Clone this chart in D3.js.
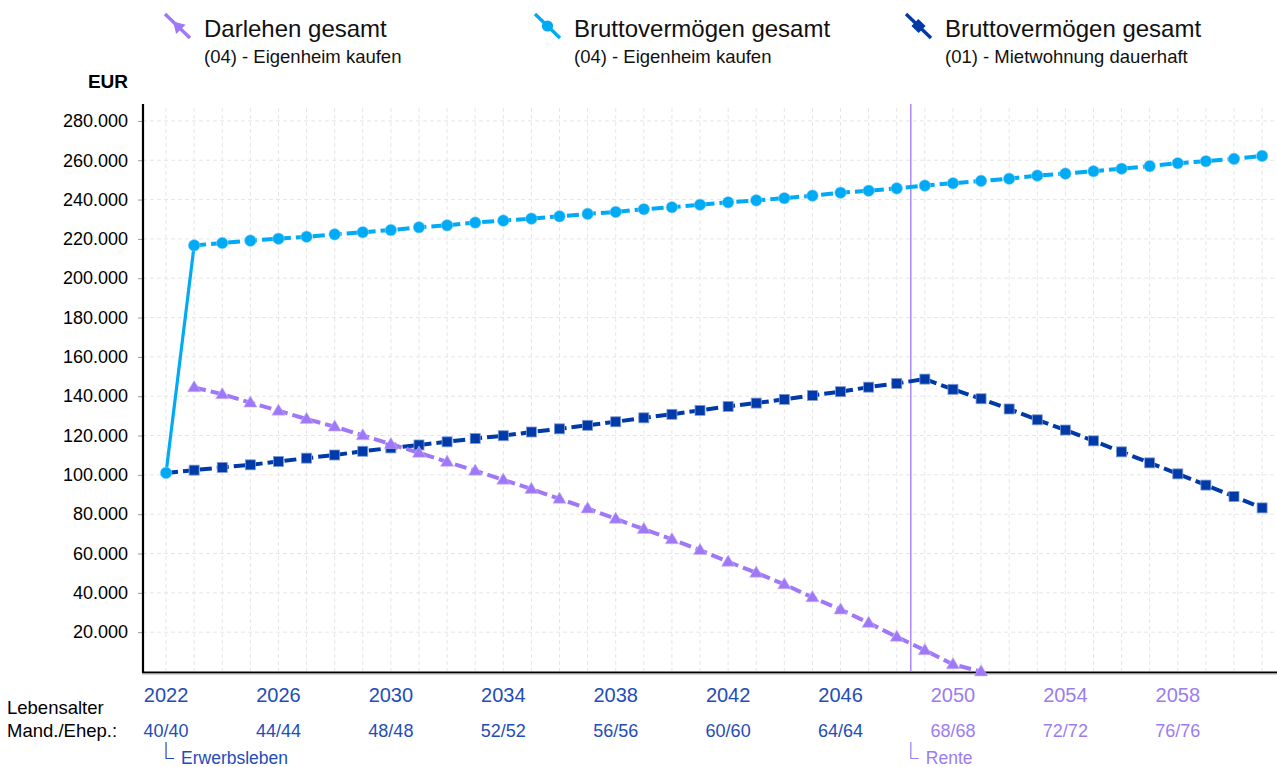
<!DOCTYPE html>
<html><head><meta charset="utf-8">
<script src="https://cdn.jsdelivr.net/npm/d3@7"></script>
<style>
html,body{margin:0;padding:0;background:#fff;}
svg{display:block;font-family:"Liberation Sans",Arial,sans-serif;}
</style></head>
<body>
<svg id="chart" width="1277" height="767"></svg>
<script>
// ---- data ----
const years = [2022,2023,2024,2025,2026,2027,2028,2029,2030,2031,2032,2033,2034,2035,2036,2037,2038,2039,2040,2041,
               2042,2043,2044,2045,2046,2047,2048,2049,2050,2051,2052,2053,2054,2055,2056,2057,2058,2059,2060,2061];
const bruttoEigenheim = [101000,216700,217900,219100,220100,221100,222300,223400,224500,225900,226900,228300,229300,230300,231500,232700,233700,235100,236100,237400,
                         238600,239600,240700,242000,243500,244500,245700,247100,248300,249500,250600,252200,253200,254400,255700,257000,258500,259500,260700,262200];
const darlehenEigenheim = [null,144500,141000,136700,132600,128400,124500,120100,115600,111200,106600,102100,97500,92800,87800,82900,77600,72400,67200,61700,
                           55800,50200,44300,37700,31500,24700,17600,10800,3600,0,null,null,null,null,null,null,null,null,null,null];
const bruttoMiete = [101000,102400,103800,105100,106800,108500,110100,112000,113700,115200,116800,118500,119900,121800,123400,125200,127000,129000,130800,132800,
                     134800,136500,138400,140400,142300,144600,146500,148700,143500,138700,133500,128000,122800,117300,111700,106100,100500,94800,89000,83200];
const yTicks = [20000,40000,60000,80000,100000,120000,140000,160000,180000,200000,220000,240000,260000,280000];
const xLabelYears = [2022,2026,2030,2034,2038,2042,2046,2050,2054,2058];
const ageLabels = ["40/40","44/44","48/48","52/52","56/56","60/60","64/64","68/68","72/72","76/76"];
const retirementYear = 2048.5;
const legendTitles = ["Darlehen gesamt","Bruttovermögen gesamt","Bruttovermögen gesamt"];
const legendSubs = ["(04) - Eigenheim kaufen","(04) - Eigenheim kaufen","(01) - Mietwohnung dauerhaft"];

// ---- styles ----
const cLight = "#00aaf5", cDark = "#0039a8", cPurple = "#9f78f7";
const cTextBlue = "#1f4db9", cTextPurple = "#9c7cf2";
const font = '"Liberation Sans",Arial,sans-serif';

const svg = d3.select("#chart");
const x = d3.scaleLinear().domain([2021.18, 2061.53]).range([143, 1277]);
const y = d3.scaleLinear().domain([0, 288600]).range([671.5, 104]);
const yTop = y(288600), yBot = y(0);

// grid
const grid = svg.append("g");
grid.selectAll("line.h").data(yTicks).join("line")
  .attr("x1", 143).attr("x2", 1277).attr("y1", d => y(d)).attr("y2", d => y(d))
  .attr("stroke", "#e6e6e6").attr("stroke-width", 1).attr("stroke-dasharray", "4,3");
grid.selectAll("line.v").data(years).join("line")
  .attr("x1", d => x(d)).attr("x2", d => x(d)).attr("y1", yTop + 4).attr("y2", yBot)
  .attr("stroke", "#e6e6e6").attr("stroke-width", 1).attr("stroke-dasharray", "4,3");

// y axis
const yAxis = d3.axisLeft(y).tickValues(yTicks).tickSize(5).tickPadding(10)
  .tickFormat(d => d3.format(",")(d).replace(/,/g, "."));
const gy = svg.append("g").attr("transform", "translate(143,0)").call(yAxis);
gy.select(".domain").remove();
gy.selectAll(".tick line").attr("stroke", "#999");
gy.selectAll(".tick text").attr("font-size", 18).attr("font-family", font).attr("fill", "#000");
svg.append("line").attr("x1", 143).attr("x2", 143).attr("y1", yTop).attr("y2", yBot + 1)
  .attr("stroke", "#000").attr("stroke-width", 2.2);
svg.append("text").attr("x", 128).attr("y", 88).attr("text-anchor", "end")
  .attr("font-size", 19).attr("font-weight", "bold").attr("font-family", font).text("EUR");

// x axis baseline
svg.append("line").attr("x1", 142).attr("x2", 1277).attr("y1", yBot + 1).attr("y2", yBot + 1)
  .attr("stroke", "#000").attr("stroke-width", 2.2);
svg.append("line").attr("x1", 142).attr("x2", 1277).attr("y1", yBot + 2.6).attr("y2", yBot + 2.6)
  .attr("stroke", "#bbb").attr("stroke-width", 1);

// retirement line
svg.append("line").attr("x1", x(retirementYear)).attr("x2", x(retirementYear)).attr("y1", yTop).attr("y2", yBot)
  .attr("stroke", cPurple).attr("stroke-width", 1.3);

// lines
const line = d3.line().defined(d => d.v !== null).x(d => x(d.t)).y(d => y(d.v));
const mk = arr => years.map((t, i) => ({t, v: arr[i]}));
const light = mk(bruttoEigenheim), dark = mk(bruttoMiete), purp = mk(darlehenEigenheim);

svg.append("path").datum(light.slice(0, 2)).attr("d", line).attr("fill", "none")
  .attr("stroke", cLight).attr("stroke-width", 3.2);
svg.append("path").datum(light.slice(1)).attr("d", line).attr("fill", "none")
  .attr("stroke", cLight).attr("stroke-width", 4).attr("stroke-dasharray", "12,5");
svg.append("path").datum(dark).attr("d", line).attr("fill", "none")
  .attr("stroke", cDark).attr("stroke-width", 4).attr("stroke-dasharray", "12,5");

// markers dark
svg.append("g").selectAll("rect").data(dark.slice(1)).join("rect")
  .attr("x", d => x(d.t) - 5).attr("y", d => y(d.v) - 5).attr("width", 10).attr("height", 10)
  .attr("fill", cDark).attr("stroke", "#7f9ad6").attr("stroke-width", 0.8);
// light markers
svg.append("g").selectAll("circle").data(light).join("circle")
  .attr("cx", d => x(d.t)).attr("cy", d => y(d.v)).attr("r", 5.8)
  .attr("fill", cLight).attr("stroke", "#8fd6fb").attr("stroke-width", 0.6);

// purple line + markers
svg.append("path").datum(purp).attr("d", line).attr("fill", "none")
  .attr("stroke", cPurple).attr("stroke-width", 4).attr("stroke-dasharray", "12,5");
const tri = "M0,-6.4L6.6,4.8L-6.6,4.8Z";
svg.append("g").selectAll("path").data(purp.filter(d => d.v !== null)).join("path")
  .attr("transform", d => `translate(${x(d.t)},${y(d.v) - 0.4})`).attr("d", tri)
  .attr("fill", cPurple).attr("stroke", "#c9b6fb").attr("stroke-width", 0.6);

// x labels
const xl = svg.append("g").attr("font-family", font);
xl.selectAll("text.yr").data(xLabelYears).join("text")
  .attr("x", d => x(d)).attr("y", 702).attr("text-anchor", "middle").attr("font-size", 20)
  .attr("fill", d => d > retirementYear ? cTextPurple : cTextBlue).text(d => d);
xl.selectAll("text.age").data(ageLabels).join("text")
  .attr("x", (d, i) => x(xLabelYears[i])).attr("y", 736.5).attr("text-anchor", "middle").attr("font-size", 18)
  .attr("fill", (d, i) => xLabelYears[i] > retirementYear ? cTextPurple : cTextBlue).text(d => d);
xl.append("text").attr("x", 7).attr("y", 714).attr("font-size", 18.5).attr("fill", "#000").text("Lebensalter");
xl.append("text").attr("x", 7).attr("y", 736.5).attr("font-size", 18.5).attr("fill", "#000").text("Mand./Ehep.:");

// phase markers
const phases = [{t: 2022, label: "Erwerbsleben", c: cTextBlue}, {t: retirementYear, label: "Rente", c: cTextPurple}];
phases.forEach(p => {
  const px = x(p.t);
  svg.append("path").attr("d", `M${px},742V758.5H${px + 8}`).attr("fill", "none").attr("stroke", p.c).attr("stroke-width", 1.2);
  svg.append("text").attr("x", px + 15).attr("y", 763.5).attr("font-size", 17.5).attr("font-family", font)
    .attr("fill", p.c).text(p.label);
});

// legend
const legX = [204, 574, 945];
const legColors = [cPurple, cLight, cDark];
legX.forEach((lx, i) => {
  const g = svg.append("g");
  g.append("line").attr("x1", lx - 39).attr("y1", 14).attr("x2", lx - 14).attr("y2", 38)
    .attr("stroke", legColors[i]).attr("stroke-width", 3.4);
  const cx = lx - 26.5, cy = 26;
  if (i === 0) g.append("path").attr("d", tri).attr("transform", `translate(${cx},${cy}) rotate(-44)`).attr("fill", cPurple);
  if (i === 1) g.append("circle").attr("cx", cx).attr("cy", cy).attr("r", 5.6).attr("fill", cLight);
  if (i === 2) g.append("rect").attr("x", -5).attr("y", -5).attr("width", 10).attr("height", 10)
    .attr("transform", `translate(${cx},${cy}) rotate(44)`).attr("fill", cDark);
  g.append("text").attr("x", lx).attr("y", 37).attr("font-size", 24).attr("font-family", font).attr("fill", "#111").text(legendTitles[i]);
  g.append("text").attr("x", lx).attr("y", 63).attr("font-size", 18.5).attr("font-family", font).attr("fill", "#111").text(legendSubs[i]);
});
</script>
</body></html>
